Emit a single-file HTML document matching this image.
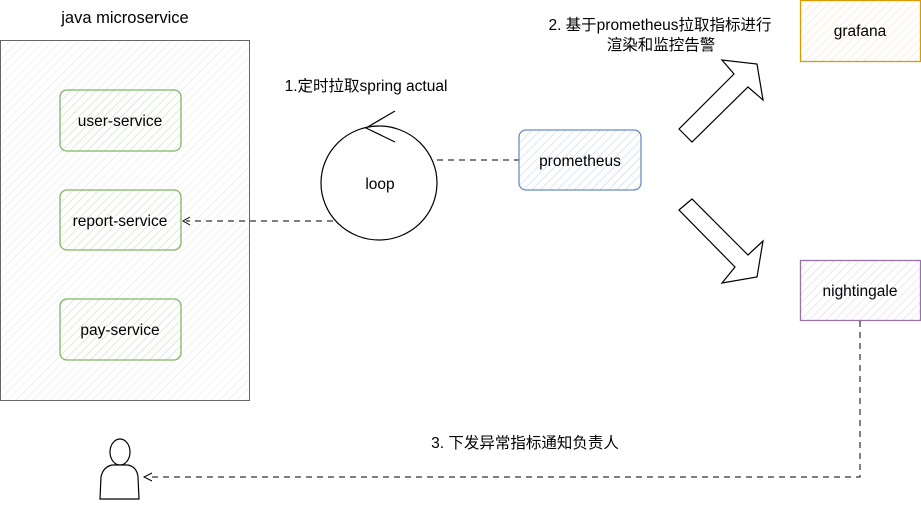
<!DOCTYPE html>
<html><head><meta charset="utf-8"><style>
html,body{margin:0;padding:0;background:#fff;}
text{font-family:"Liberation Sans","Noto Sans CJK SC",sans-serif;font-size:15.5px;fill:#000;}
</style></head><body>
<svg width="921" height="501" viewBox="0 0 921 501" xmlns="http://www.w3.org/2000/svg">
<defs>
<pattern id="h" width="6" height="6" patternUnits="userSpaceOnUse" patternTransform="rotate(45)">
<line x1="0" y1="0" x2="0" y2="6" stroke="#e4e4e4" stroke-width="1"/></pattern>
<pattern id="hg" width="6" height="6" patternUnits="userSpaceOnUse" patternTransform="rotate(45)">
<line x1="0" y1="0" x2="0" y2="6" stroke="#cfe3c4" stroke-width="1.2"/></pattern>
<pattern id="hb" width="6" height="6" patternUnits="userSpaceOnUse" patternTransform="rotate(45)">
<line x1="0" y1="0" x2="0" y2="6" stroke="#c6d6ee" stroke-width="1.2"/></pattern>
<pattern id="ho" width="6" height="6" patternUnits="userSpaceOnUse" patternTransform="rotate(45)">
<line x1="0" y1="0" x2="0" y2="6" stroke="#fbe1bf" stroke-width="1.2"/></pattern>
<pattern id="hp" width="6" height="6" patternUnits="userSpaceOnUse" patternTransform="rotate(45)">
<line x1="0" y1="0" x2="0" y2="6" stroke="#e2d5ea" stroke-width="1.2"/></pattern>
</defs>
<text x="125" y="23" text-anchor="middle" style="font-size:16.5px">java microservice</text>
<rect x="0.5" y="40.5" width="249" height="360" fill="url(#h)" stroke="#666" stroke-width="1"/>
<rect x="60" y="90" width="121" height="61" rx="7" fill="url(#hg)" stroke="#82b366" stroke-width="1.3"/>
<text x="120" y="126" text-anchor="middle">user-service</text>
<rect x="60" y="190" width="121" height="60" rx="7" fill="url(#hg)" stroke="#82b366" stroke-width="1.3"/>
<text x="120" y="226" text-anchor="middle">report-service</text>
<rect x="60" y="299" width="121" height="61" rx="7" fill="url(#hg)" stroke="#82b366" stroke-width="1.3"/>
<text x="120" y="335" text-anchor="middle">pay-service</text>
<text x="366" y="91" text-anchor="middle">1.定时拉取spring actual</text>
<ellipse cx="379" cy="183" rx="58" ry="57" fill="none" stroke="#000" stroke-width="1.2"/>
<path d="M395 111 L366 128 L395 142" fill="none" stroke="#000" stroke-width="1.2"/>
<text x="380" y="189" text-anchor="middle">loop</text>
<line x1="437" y1="160" x2="519" y2="160" stroke="#000" stroke-dasharray="6,5"/>
<line x1="333" y1="221" x2="186" y2="221" stroke="#000" stroke-dasharray="6,5"/>
<path d="M190 217 L183 221 L190 225" fill="none" stroke="#000"/>
<rect x="519" y="130" width="122" height="60" rx="7" fill="url(#hb)" stroke="#6c8ebf" stroke-width="1.3"/>
<text x="580" y="166" text-anchor="middle">prometheus</text>
<text x="660" y="30" text-anchor="middle">2. 基于prometheus拉取指标进行</text>
<text x="661" y="50" text-anchor="middle">渲染和监控告警</text>
<rect x="800.5" y="0.5" width="120" height="61" fill="url(#ho)" stroke="#d79b00" stroke-width="1.3"/>
<text x="860" y="36" text-anchor="middle">grafana</text>
<rect x="800.5" y="260.5" width="120" height="60" fill="url(#hp)" stroke="#9673a6" stroke-width="1.3"/>
<text x="860" y="296" text-anchor="middle">nightingale</text>
<polygon points="679,129 692,142 748,87 763,100 757,64 722,60 734,74" fill="#fff" stroke="#000" stroke-width="1.2"/>
<polygon points="679,210 692,199 748,255 763,241 757,277 722,283 735,267" fill="#fff" stroke="#000" stroke-width="1.2"/>
<polyline points="860,321 860,477 148,477" fill="none" stroke="#000" stroke-dasharray="6,5"/>
<path d="M152 473 L144 477 L152 481" fill="none" stroke="#000"/>
<text x="525" y="448" text-anchor="middle">3. 下发异常指标通知负责人</text>
<ellipse cx="120" cy="452" rx="10" ry="13" fill="#fff" stroke="#000" stroke-width="1.2"/>
<path d="M100 499 L101 477 Q103 467 112 465 L128 465 Q137 467 138 477 L139 499 Z" fill="#fff" stroke="#000" stroke-width="1.2"/>
</svg>
</body></html>
